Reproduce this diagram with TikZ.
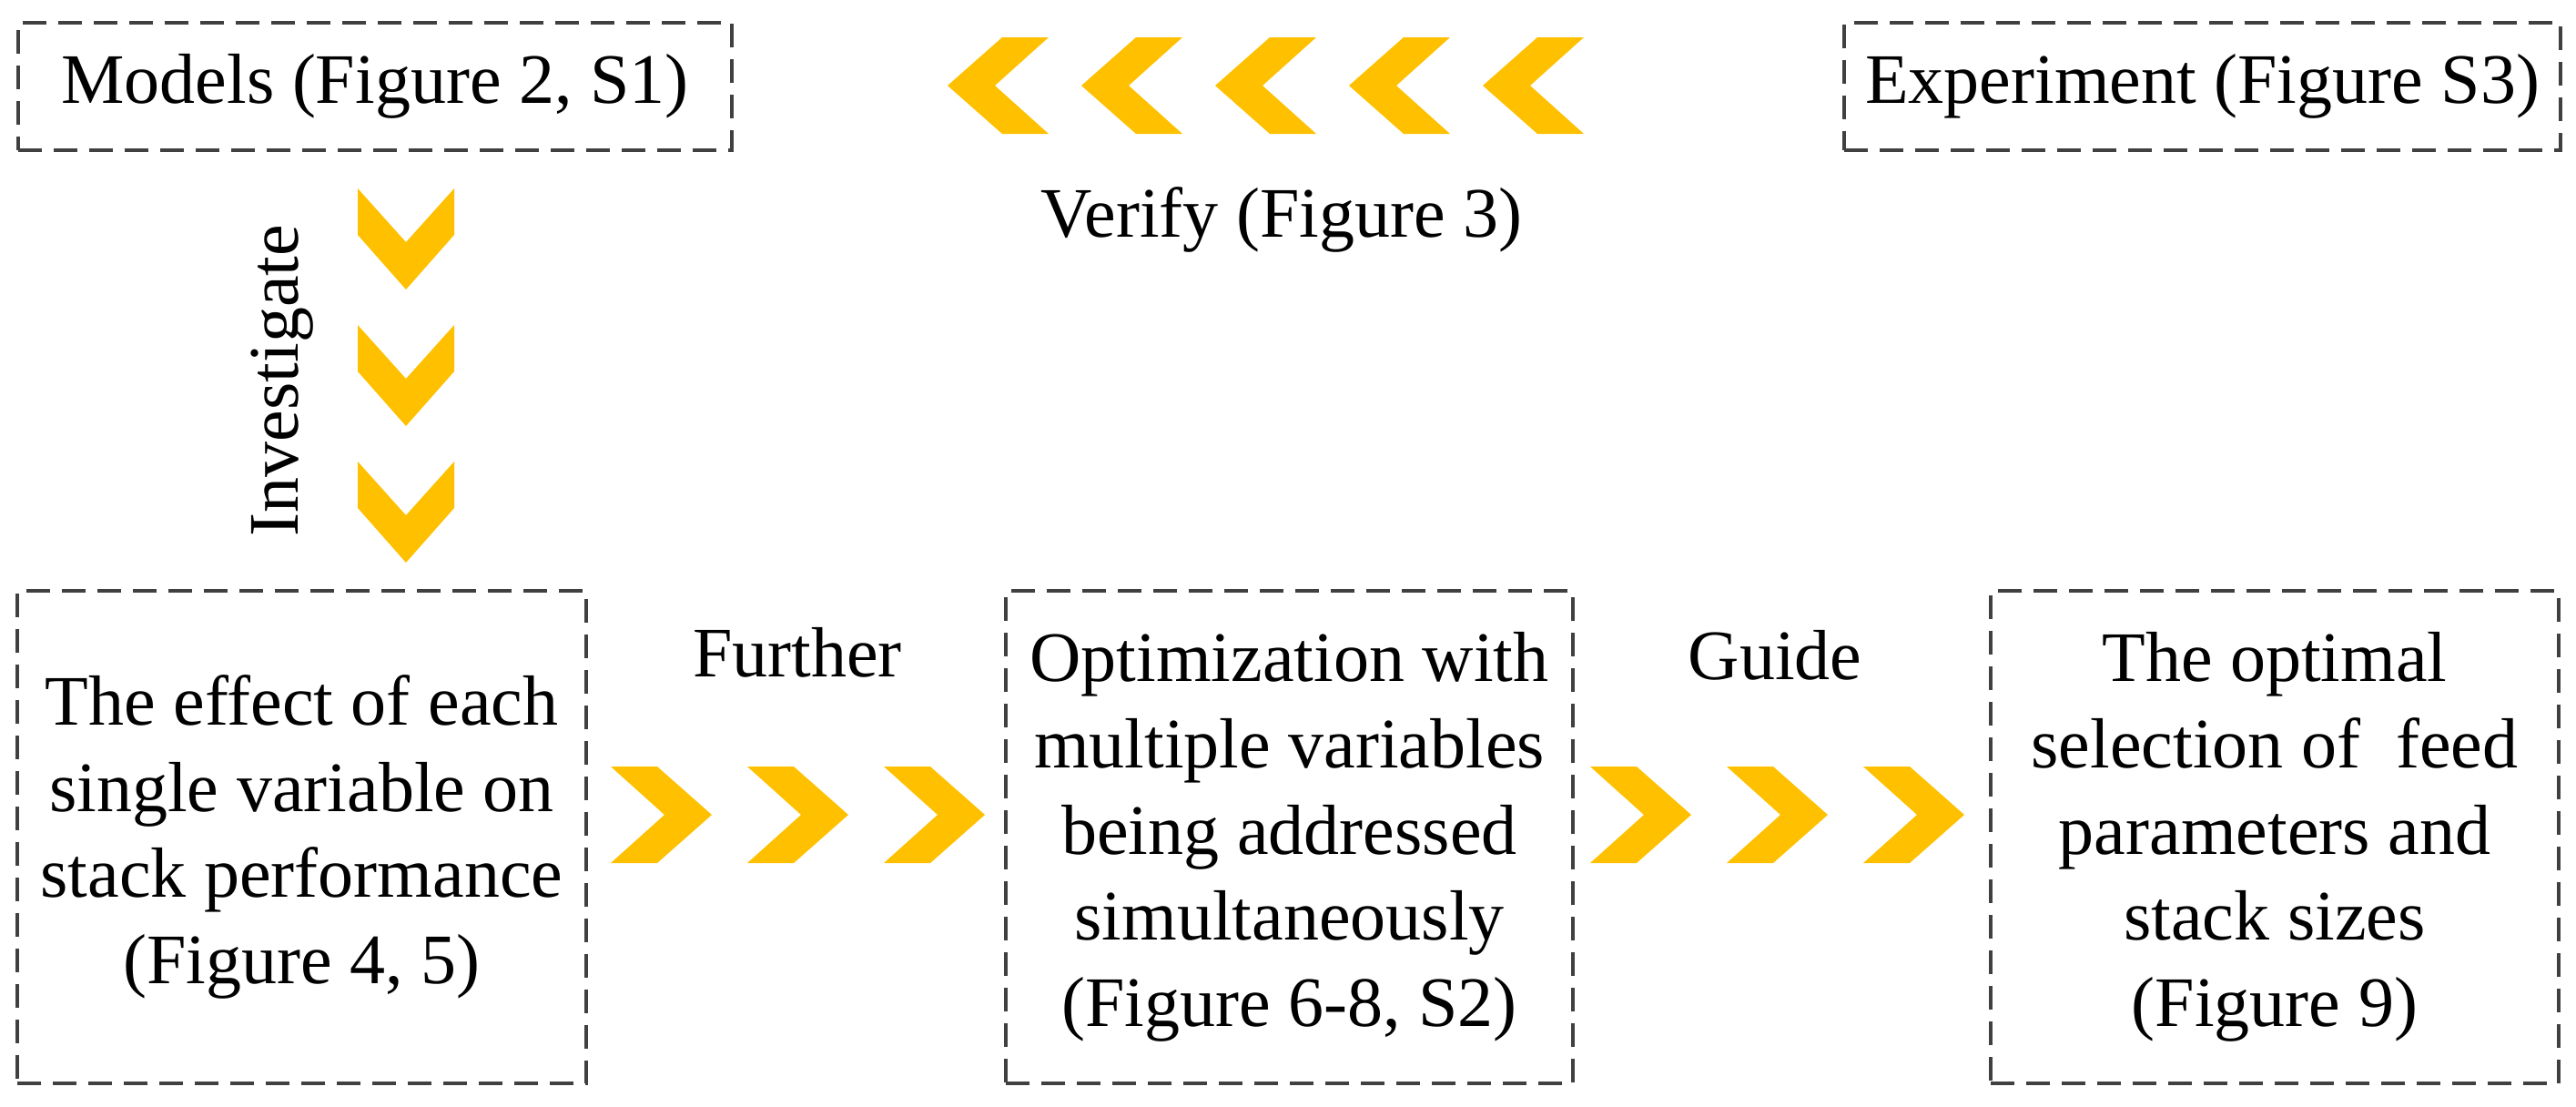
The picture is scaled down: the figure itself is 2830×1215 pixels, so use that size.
\documentclass[tikz,border=0pt]{standalone}
\usepackage{fontspec}
\setmainfont{Liberation Serif}
\definecolor{chevcolor}{HTML}{FFC000}
\definecolor{boxgray}{HTML}{404040}
\begin{document}
\begin{tikzpicture}[x=0.25pt,y=-0.25pt,
  txt/.style={font=\fontsize{19.5}{23.7}\selectfont},
  box/.style={txt, draw=boxgray, dash pattern=on 6.5pt off 3.25pt, line width=0.9pt,
    inner sep=0pt, align=center},
  lbl/.style={txt, inner sep=0pt},
  chev/.pic={\fill[chevcolor] (-111,-53) -- (-60,-53) -- (0,0) -- (-60,53) -- (-111,53) -- (-52,0) -- cycle;}
]
\useasboundingbox (0,0) rectangle (2830,1215);

% boxes
\node[box, minimum width=196pt, minimum height=35pt] (models) at (412,95) {Models (Figure 2, S1)};
\node[box, minimum width=196.75pt, minimum height=35pt] (exp) at (2419.5,95) {Experiment (Figure S3)};
\node[box, minimum width=156.25pt, minimum height=135.25pt] (single) at (331.5,919.5)
  {The effect of each\\single variable on\\stack performance\\(Figure 4, 5)};
\node[box, minimum width=155.75pt, minimum height=135.25pt] (multi) at (1416.5,919.5)
  {Optimization with\\multiple variables\\being addressed\\simultaneously\\(Figure 6-8, S2)};
\node[box, minimum width=156pt, minimum height=135.25pt] (optimal) at (2499,919.5)
  {The optimal\\selection of\ \ feed\\parameters and\\stack sizes\\(Figure 9)};

% labels
\node[lbl, anchor=base] (verify) at (1408,260) {Verify (Figure 3)};
\node[lbl, anchor=base] (further) at (876,743) {Further};
\node[lbl, anchor=base] (guide) at (1950,746) {Guide};
\node[lbl, anchor=base, rotate=90] (invest) at (327,418) {Investigate};

% chevrons: verify (left-pointing)
\foreach \t in {1041,1188,1335,1482,1629}
  \pic[rotate=180] at (\t,94) {chev};
% investigate (down-pointing)
\foreach \t in {318,468,618}
  \pic[rotate=-90] at (446,\t) {chev};
% further (right-pointing)
\foreach \t in {782,932,1082}
  \pic at (\t,895) {chev};
% guide (right-pointing)
\foreach \t in {1858,2008,2158}
  \pic at (\t,895) {chev};
\end{tikzpicture}
\end{document}
